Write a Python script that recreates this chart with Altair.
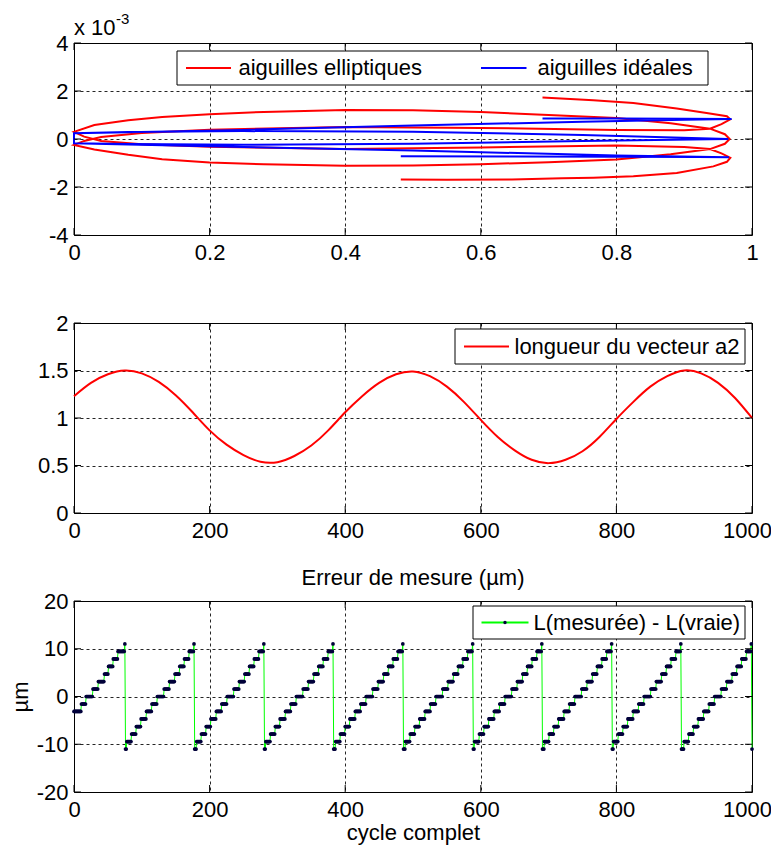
import altair as alt
import pandas as pd

FONT = "Liberation Sans"

# ---------------- Panel 1 : needle tips (y in units of 1e-3) ----------------
red_x = [0.482, 0.55, 0.646, 0.72, 0.766, 0.825, 0.889, 0.943, 0.963, 0.968,
         0.955, 0.938, 0.90, 0.80, 0.60, 0.40, 0.20, 0.10, 0.04, 0.015, 0.0,
         0.03, 0.08, 0.13, 0.20, 0.28, 0.40, 0.50, 0.60, 0.70, 0.80, 0.88, 0.938, 0.96, 0.967,
         0.96, 0.938, 0.88, 0.80, 0.70, 0.60, 0.50, 0.40, 0.28, 0.20, 0.13, 0.08, 0.03, 0.0,
         0.015, 0.04, 0.10, 0.20, 0.40, 0.60, 0.80, 0.90, 0.938, 0.955, 0.968,
         0.963, 0.933, 0.889, 0.825, 0.766, 0.691]
red_y = [-1.69, -1.70, -1.69, -1.64, -1.61, -1.55, -1.42, -1.14, -0.95, -0.78,
         -0.60, -0.42, -0.33, -0.27, -0.35, -0.42, -0.32, -0.22, -0.08, 0.10, 0.30,
         0.58, 0.78, 0.92, 1.03, 1.13, 1.21, 1.20, 1.12, 1.00, 0.88, 0.66, 0.43, 0.20, 0.0,
         -0.20, -0.42, -0.64, -0.85, -0.97, -1.05, -1.10, -1.11, -1.05, -0.98, -0.84, -0.66, -0.44, -0.25,
         -0.08, 0.08, 0.25, 0.39, 0.50, 0.46, 0.38, 0.36, 0.43, 0.62, 0.82,
         0.95, 1.08, 1.27, 1.50, 1.61, 1.725]

blue_x = [0.482, 0.65, 0.80, 0.92, 0.966,
          0.80, 0.50, 0.25, 0.08, 0.0,
          0.0, 0.08, 0.25, 0.50, 0.75, 0.965,
          0.75, 0.50, 0.25, 0.08, 0.0,
          0.0, 0.08, 0.25, 0.50, 0.75, 0.90, 0.97,
          0.90, 0.80, 0.691]
blue_y = [-0.72, -0.73, -0.74, -0.75, -0.76,
          -0.69, -0.48, -0.33, -0.23, -0.18,
          0.24, 0.29, 0.33, 0.30, 0.17, 0.0,
          -0.08, -0.20, -0.24, -0.21, -0.18,
          0.24, 0.28, 0.38, 0.56, 0.72, 0.80, 0.83,
          0.84, 0.85, 0.85]

x1_ticks = [0, 0.2, 0.4, 0.6, 0.8, 1]
y1_ticks = [-4, -2, 0, 2, 4]

# ---------------- Panel 2 : length of vector a2 ----------------
a2_x = [0, 25, 50, 75, 100, 125, 150, 175, 200, 225, 250, 275, 300, 325, 350, 375,
        400, 425, 450, 475, 500, 525, 550, 575, 600, 625, 650, 675, 700, 725, 750,
        775, 800, 825, 850, 875, 900, 925, 950, 975, 1000]
a2_y = [1.23, 1.37, 1.46, 1.50, 1.47, 1.38, 1.24, 1.06, 0.87, 0.72, 0.61, 0.54,
        0.535, 0.60, 0.71, 0.87, 1.06, 1.23, 1.37, 1.46, 1.49, 1.44, 1.33, 1.17,
        0.98, 0.80, 0.66, 0.56, 0.525, 0.56, 0.65, 0.80, 0.99, 1.17, 1.33, 1.44,
        1.50, 1.47, 1.37, 1.21, 1.00]

x2_ticks = [0, 200, 400, 600, 800, 1000]
y2_ticks = [0, 0.5, 1, 1.5, 2]

# ---------------- Panel 3 : measurement error (µm) ----------------
# last sample of each tooth (at +11) before the drop to -11
drop_x = [75, 177, 280, 382, 485, 588, 690, 793, 895, 999]
levels = [-11, -9.43, -7.86, -6.29, -4.71, -3.14, -1.57, 0, 1.57, 3.14, 4.71, 6.29, 7.86, 9.43, 11]
# samples held on each level in a full tooth, from -9.43 up to +11 (-11 takes the rest)
tooth_counts = [7, 7, 7, 8, 8, 8, 10, 8, 8, 7, 7, 7, 7, 1]
# first, partial tooth: samples held on levels -3.14 ... +11
first_counts = [11, 7, 10, 8, 9, 6, 7, 7, 10, 1]
n_samples = 1001

y3_ticks = [-20, -10, 0, 10, 20]


def level_at(x):
    if x <= drop_x[0]:
        off = x
        for lv, c in zip(levels[5:], first_counts):
            if off < c:
                return lv
            off -= c
        return levels[-1]
    nxt = [d for d in drop_x if d >= x]
    if not nxt:
        return levels[0]
    off = nxt[0] - x
    for lv, c in zip(levels[1:][::-1], tooth_counts[::-1]):
        if off < c:
            return lv
        off -= c
    return levels[0]


err = pd.DataFrame({"x": list(range(n_samples))})
err["y"] = [level_at(v) for v in err["x"]]
err["i"] = range(len(err))

W = 678
H1, H2, H3 = 192, 190, 191
TL = 7  # inward tick length

one = pd.DataFrame({"k": [0]})
last_label_shift = {"condition": {"test": "datum.value === 1000", "value": -5}, "value": 0}


def frame_ticks(xt, yt, xs, ys, h):
    xdf = pd.DataFrame({"x": xt})
    ydf = pd.DataFrame({"y": yt})
    xenc = alt.X("x:Q", scale=xs)
    yenc = alt.Y("y:Q", scale=ys)
    return [
        alt.Chart(ydf).mark_rule(color="black").encode(y=yenc, x=alt.value(0), x2=alt.value(TL)),
        alt.Chart(ydf).mark_rule(color="black").encode(y=yenc, x=alt.value(W - TL), x2=alt.value(W)),
        alt.Chart(xdf).mark_rule(color="black").encode(x=xenc, y=alt.value(h - TL), y2=alt.value(h)),
        alt.Chart(xdf).mark_rule(color="black").encode(x=xenc, y=alt.value(0), y2=alt.value(TL)),
    ]


def legend_box(x0, x1, y0, y1):
    return alt.Chart(one).mark_rect(fill="white", stroke="black", strokeWidth=1).encode(
        x=alt.value(x0), x2=alt.value(x1), y=alt.value(y0), y2=alt.value(y1))


def legend_line(x0, x1, y, color):
    return alt.Chart(one).mark_rule(color=color, strokeWidth=2).encode(
        x=alt.value(x0), x2=alt.value(x1), y=alt.value(y))


def text_at(x, y, txt, size=22, align="left", baseline="middle"):
    return alt.Chart(one).mark_text(align=align, baseline=baseline, font=FONT,
                                    fontSize=size, color="black").encode(
        x=alt.value(x), y=alt.value(y), text=alt.value(txt))


# ---- panel 1 ----
xs1 = alt.Scale(domain=[0, 1], nice=False, zero=False)
ys1 = alt.Scale(domain=[-4, 4], nice=False, zero=False)
xax1 = alt.Axis(values=x1_ticks, title=None, labelExpr="toString(datum.value)")
yax1 = alt.Axis(values=y1_ticks, title=None, labelExpr="toString(datum.value)")

red_df = pd.DataFrame({"x": red_x, "y": red_y, "i": range(len(red_x))})
blue_df = pd.DataFrame({"x": blue_x, "y": blue_y, "i": range(len(blue_x))})

red_line = alt.Chart(red_df).mark_line(color="#ff0000", strokeWidth=2).encode(
    x=alt.X("x:Q", scale=xs1, axis=xax1), y=alt.Y("y:Q", scale=ys1, axis=yax1), order="i:Q")
blue_line = alt.Chart(blue_df).mark_line(color="#0000ff", strokeWidth=2).encode(
    x=alt.X("x:Q", scale=xs1), y=alt.Y("y:Q", scale=ys1), order="i:Q")

p1 = alt.layer(
    red_line, blue_line, *frame_ticks(x1_ticks, y1_ticks, xs1, ys1, H1),
    legend_box(103, 634, 8, 42),
    legend_line(112, 157, 25, "#ff0000"), text_at(164.5, 25, "aiguilles elliptiques"),
    legend_line(407, 452.5, 25, "#0000ff"), text_at(463.5, 25, "aiguilles idéales"),
    text_at(0, -8, "x 10", baseline="alphabetic"),
    text_at(42, -19, "-3", size=15, baseline="alphabetic"),
).properties(width=W, height=H1)

# ---- panel 2 ----
xs2 = alt.Scale(domain=[0, 1000], nice=False, zero=False)
ys2 = alt.Scale(domain=[0, 2], nice=False, zero=False)
a2_df = pd.DataFrame({"x": a2_x, "y": a2_y})
a2_line = alt.Chart(a2_df).mark_line(color="#ff0000", strokeWidth=2, interpolate="natural").encode(
    x=alt.X("x:Q", scale=xs2, axis=alt.Axis(values=x2_ticks, title=None, labelExpr="toString(datum.value)",
                                            labelOffset=last_label_shift)),
    y=alt.Y("y:Q", scale=ys2, axis=alt.Axis(values=y2_ticks, title=None, labelExpr="toString(datum.value)")))

p2 = alt.layer(
    a2_line, *frame_ticks(x2_ticks, y2_ticks, xs2, ys2, H2),
    legend_box(381, 671, 6, 41),
    legend_line(390, 435, 23.5, "#ff0000"), text_at(440.5, 23.5, "longueur du vecteur a2"),
).properties(width=W, height=H2)

# ---- panel 3 ----
xs3 = alt.Scale(domain=[0, 1000], nice=False, zero=False)
ys3 = alt.Scale(domain=[-20, 20], nice=False, zero=False)
err_line = alt.Chart(err).mark_line(color="#00ff00", strokeWidth=1).encode(
    x=alt.X("x:Q", scale=xs3, axis=alt.Axis(values=x2_ticks, title="cycle complet",
                                            labelExpr="toString(datum.value)",
                                            labelOffset=last_label_shift,
                                            titleBaseline="alphabetic", titleY=47)),
    y=alt.Y("y:Q", scale=ys3, axis=alt.Axis(values=y3_ticks, title="µm",
                                            labelExpr="toString(datum.value)",
                                            titleBaseline="alphabetic", titleX=-47, titleAngle=270)),
    order="i:Q")
err_pts = alt.Chart(err).mark_circle(color="#00003a", size=14, opacity=1).encode(
    x=alt.X("x:Q", scale=xs3), y=alt.Y("y:Q", scale=ys3))

leg3_dot = alt.Chart(one).mark_circle(color="#00003a", size=12, opacity=1).encode(
    x=alt.value(431), y=alt.value(21.5))

p3 = alt.layer(
    err_line, err_pts, *frame_ticks(x2_ticks, y3_ticks, xs3, ys3, H3),
    legend_box(399, 671, 5, 38),
    legend_line(407.5, 454.5, 21.5, "#00ff00"), leg3_dot,
    text_at(459.5, 21.5, "L(mesurée) - L(vraie)"),
    text_at(W / 2, -16, "Erreur de mesure (µm)", align="center", baseline="alphabetic"),
).properties(width=W, height=H3)

chart = alt.vconcat(p1, p2, p3, spacing=88, bounds="flush").properties(
    autosize=alt.AutoSizeParams(type="none"),
    padding={"left": 66, "top": 35, "right": 19, "bottom": 804},
    background="white",
).configure_view(stroke="black", strokeWidth=1).configure_axis(
    labelFont=FONT, labelFontSize=22, labelColor="black", titleFont=FONT, titleFontSize=22,
    titleFontWeight="normal", titleColor="black",
    grid=True, gridColor="black", gridDash=[3, 3], gridWidth=1, gridOpacity=0.85,
    ticks=False, domain=False, labelFlush=False, labelOverlap=False, labelBound=False,
).configure_axisX(labelPadding=24, labelBaseline="alphabetic").configure_axisY(
    labelPadding=6, labelAlign="right", labelBaseline="middle"
)

chart.save("out.html", embed_options={"renderer": "svg", "actions": False})
